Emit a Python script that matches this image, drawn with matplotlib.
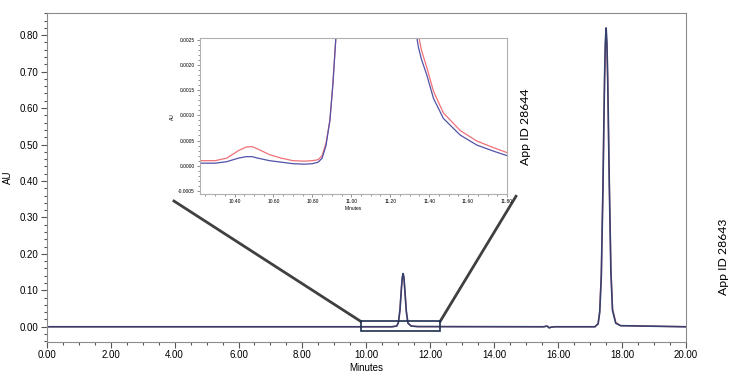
import matplotlib
matplotlib.use('Agg')
import matplotlib.pyplot as plt
import matplotlib.patches as patches
from matplotlib.ticker import MultipleLocator, FormatStrFormatter

# full chromatogram (minutes, AU)
main_t = [0.0, 10.8, 10.95, 11.0, 11.05, 11.1, 11.125, 11.15, 11.175, 11.2, 11.25, 11.3,
          11.4, 11.6, 15.55, 15.65, 15.72, 15.78, 15.9, 17.15, 17.25, 17.3, 17.35,
          17.4, 17.425, 17.45, 17.475, 17.5, 17.525, 17.55, 17.575, 17.6, 17.65, 17.7,
          17.8, 17.95, 20.0]
main_blue = [0.0, 0.0, 0.002, 0.011, 0.045, 0.11, 0.136, 0.146, 0.135, 0.105, 0.042, 0.01,
             0.002, 0.0005, 0.0, 0.002, -0.003, -0.001, 0.0, 0.0, 0.008, 0.04, 0.14,
             0.375, 0.528, 0.675, 0.78, 0.82, 0.78, 0.68, 0.535, 0.39, 0.15, 0.045,
             0.01, 0.003, 0.0]
main_red = [0.0, 0.0, 0.002, 0.011, 0.045, 0.11, 0.135, 0.145, 0.134, 0.105, 0.042, 0.01,
            0.002, 0.0005, 0.0, 0.002, -0.003, -0.001, 0.0, 0.0, 0.009, 0.042, 0.145,
            0.38, 0.525, 0.665, 0.765, 0.805, 0.77, 0.675, 0.535, 0.395, 0.155, 0.05,
            0.012, 0.003, 0.0]

# zoomed region around the 11.1 min peak
inset_t = [10.22, 10.30, 10.36, 10.42, 10.46, 10.49, 10.52, 10.58, 10.64, 10.70, 10.76,
           10.80, 10.83, 10.85, 10.87, 10.89, 10.905, 10.92, 10.93,
           11.33, 11.345, 11.36, 11.388, 11.422, 11.473, 11.559, 11.645, 11.73, 11.80]
inset_blue = [0.00005, 0.00005, 0.00008, 0.00015, 0.00018, 0.00018, 0.00015, 0.00010,
              0.00007, 0.00004, 0.00003, 0.00004, 0.00007, 0.00015, 0.0004, 0.0009,
              0.0016, 0.0025, 0.0032,
              0.0027, 0.00235, 0.00212, 0.0018, 0.00134, 0.00094, 0.00061, 0.00041,
              0.00029, 0.0002]
inset_red = [0.0001, 0.0001, 0.00015, 0.00030, 0.00037, 0.00038, 0.00033, 0.00022,
             0.00015, 0.00010, 0.00009, 0.0001, 0.00012, 0.0002, 0.00045, 0.0009,
             0.0016, 0.0025, 0.0032,
             0.0030, 0.0026, 0.0023, 0.00195, 0.00148, 0.00105, 0.0007, 0.00049,
             0.00036, 0.00026]

BLUE = '#34406e'
IN_BLUE = '#5252a8'
IN_RED = '#f07078'
SPINE = '#8c8c8c'

plt.rcParams['font.family'] = ['Liberation Sans', 'DejaVu Sans']

fig = plt.figure(figsize=(7.5, 3.76), dpi=100)
ax = fig.add_axes([0.0623, 0.0912, 0.8524, 0.8734])
ax.plot(main_t, main_red, color=IN_RED, lw=1.0)
ax.plot(main_t, main_blue, color=BLUE, lw=1.2)
ax.set_xlim(0, 20)
ax.set_ylim(-0.041, 0.86)
ax.xaxis.set_major_locator(MultipleLocator(2))
ax.xaxis.set_minor_locator(MultipleLocator(0.5))
ax.yaxis.set_major_locator(MultipleLocator(0.1))
ax.yaxis.set_minor_locator(MultipleLocator(0.02))
ax.xaxis.set_major_formatter(FormatStrFormatter('%.2f'))
ax.yaxis.set_major_formatter(FormatStrFormatter('%.2f'))
ax.tick_params(which='major', length=4, width=0.8, labelsize=7, pad=2, color='#555555')
ax.tick_params(which='minor', length=2.5, width=0.8, color='#555555')
for s in ax.spines.values():
    s.set_color(SPINE)
ax.set_xlabel('Minutes', fontsize=7, labelpad=2)
ax.set_ylabel('AU', fontsize=7)
ax.yaxis.set_label_coords(-0.053, 0.5)

# box around the zoomed region and connector lines
ax.add_patch(patches.Rectangle((9.82, -0.011), 2.49, 0.026, fill=False,
                               edgecolor='#1f2f4f', lw=1.2, zorder=3))
ax.plot([3.98, 9.82], [0.345, 0.015], color='#404040', lw=2, clip_on=False)
ax.plot([12.31, 14.68], [0.015, 0.358], color='#404040', lw=2, clip_on=False)

ins = fig.add_axes([0.266, 0.483, 0.41, 0.415])
ins.plot(inset_t, inset_red, color=IN_RED, lw=0.9)
ins.plot(inset_t, inset_blue, color=IN_BLUE, lw=0.9)
ins.set_xlim(10.22, 11.80)
ins.set_ylim(-0.00057, 0.00253)
ins.xaxis.set_major_locator(MultipleLocator(0.2))
ins.xaxis.set_minor_locator(MultipleLocator(0.05))
ins.yaxis.set_major_locator(MultipleLocator(0.0005))
ins.yaxis.set_minor_locator(MultipleLocator(0.0001))
ins.xaxis.set_major_formatter(FormatStrFormatter('%.2f'))
ins.yaxis.set_major_formatter(FormatStrFormatter('%.4f'))
ins.tick_params(which='major', length=2, width=0.5, labelsize=3.5, pad=1.5, color='#666666')
ins.tick_params(which='minor', length=1.2, width=0.5, color='#666666')
for s in ins.spines.values():
    s.set_color('#b0b0b0')
ins.set_xlabel('Minutes', fontsize=3.5, labelpad=1)
ins.set_ylabel('AU', fontsize=3.5, labelpad=2)

fig.text(0.701, 0.664, 'App ID 28644', rotation=90, fontsize=8.8, ha='center', va='center',
         family=['Lato', 'DejaVu Sans'])
fig.text(0.965, 0.318, 'App ID 28643', rotation=90, fontsize=8.8, ha='center', va='center',
         family=['Lato', 'DejaVu Sans'])

fig.savefig('out.png', dpi=100)
